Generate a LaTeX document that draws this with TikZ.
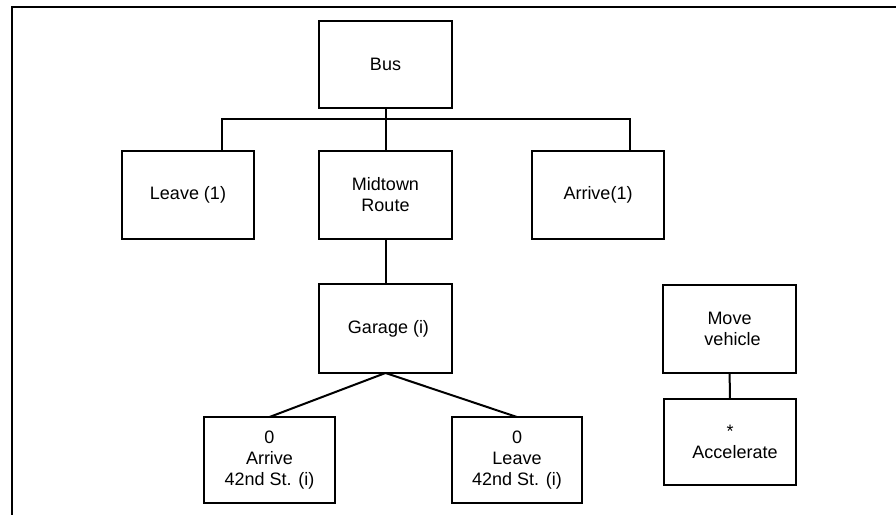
\documentclass[tikz,border=0pt]{standalone}
\usepackage{fontspec}
\setmainfont{Liberation Sans}
\begin{document}
\begin{tikzpicture}[x=1pt,y=-1pt,
  line width=2pt,
  box/.style={draw,rectangle,inner sep=0pt,outer sep=0pt,align=center,
    minimum width=133pt,minimum height=87pt,
    font=\fontsize{18}{21}\selectfont},
  link/.style={draw,line width=2pt}]
  \useasboundingbox (0,0) rectangle (896,514);
  % partial outer frame
  \draw[line join=miter] (12,520) -- (12,7) -- (900,7);

  % boxes
  \node[box] (bus)     at (385.5,64)  {Bus};
  \node[box,minimum width=132pt,minimum height=88pt] (leave1)  at (188,195)  {Leave (1)};
  \node[box,minimum height=88pt] (midtown) at (385.5,195) {Midtown\\Route};
  \node[box,minimum width=132pt,minimum height=88pt] (arrive1) at (598,195)  {Arrive(1)};
  \node[box,minimum height=89pt] (garage)  at (385.5,328.5) {\hspace*{6pt}Garage (i)};
  \node[box,minimum width=131pt,minimum height=86pt] (arr42) at (269.5,460) {0\\Arrive\\42nd St. (i)};
  \node[box,minimum width=130pt,minimum height=86pt] (lv42)  at (517,460) {0\\Leave\\42nd St. (i)};
  \node[box,minimum height=88pt] (move)  at (729.5,329) {Move\\\hspace*{6pt}vehicle};
  \node[box,minimum width=132pt,minimum height=86pt] (accel) at (730,442) {*\\\hspace*{10pt}Accelerate};

  % connectors
  \coordinate (barL) at (222,119);
  \coordinate (barR) at (630,119);
  \draw[link] (leave1.north -| barL) -- (barL) -- (barR) -- (arrive1.north -| barR);
  \draw[link] (bus) -- (midtown);
  \draw[link] (midtown) -- (garage);
  \draw[link] (garage.south) -- (arr42.north);
  \draw[link] (garage.south) -- (lv42.north);
  \draw[link] (move) -- (accel);
\end{tikzpicture}
\end{document}
